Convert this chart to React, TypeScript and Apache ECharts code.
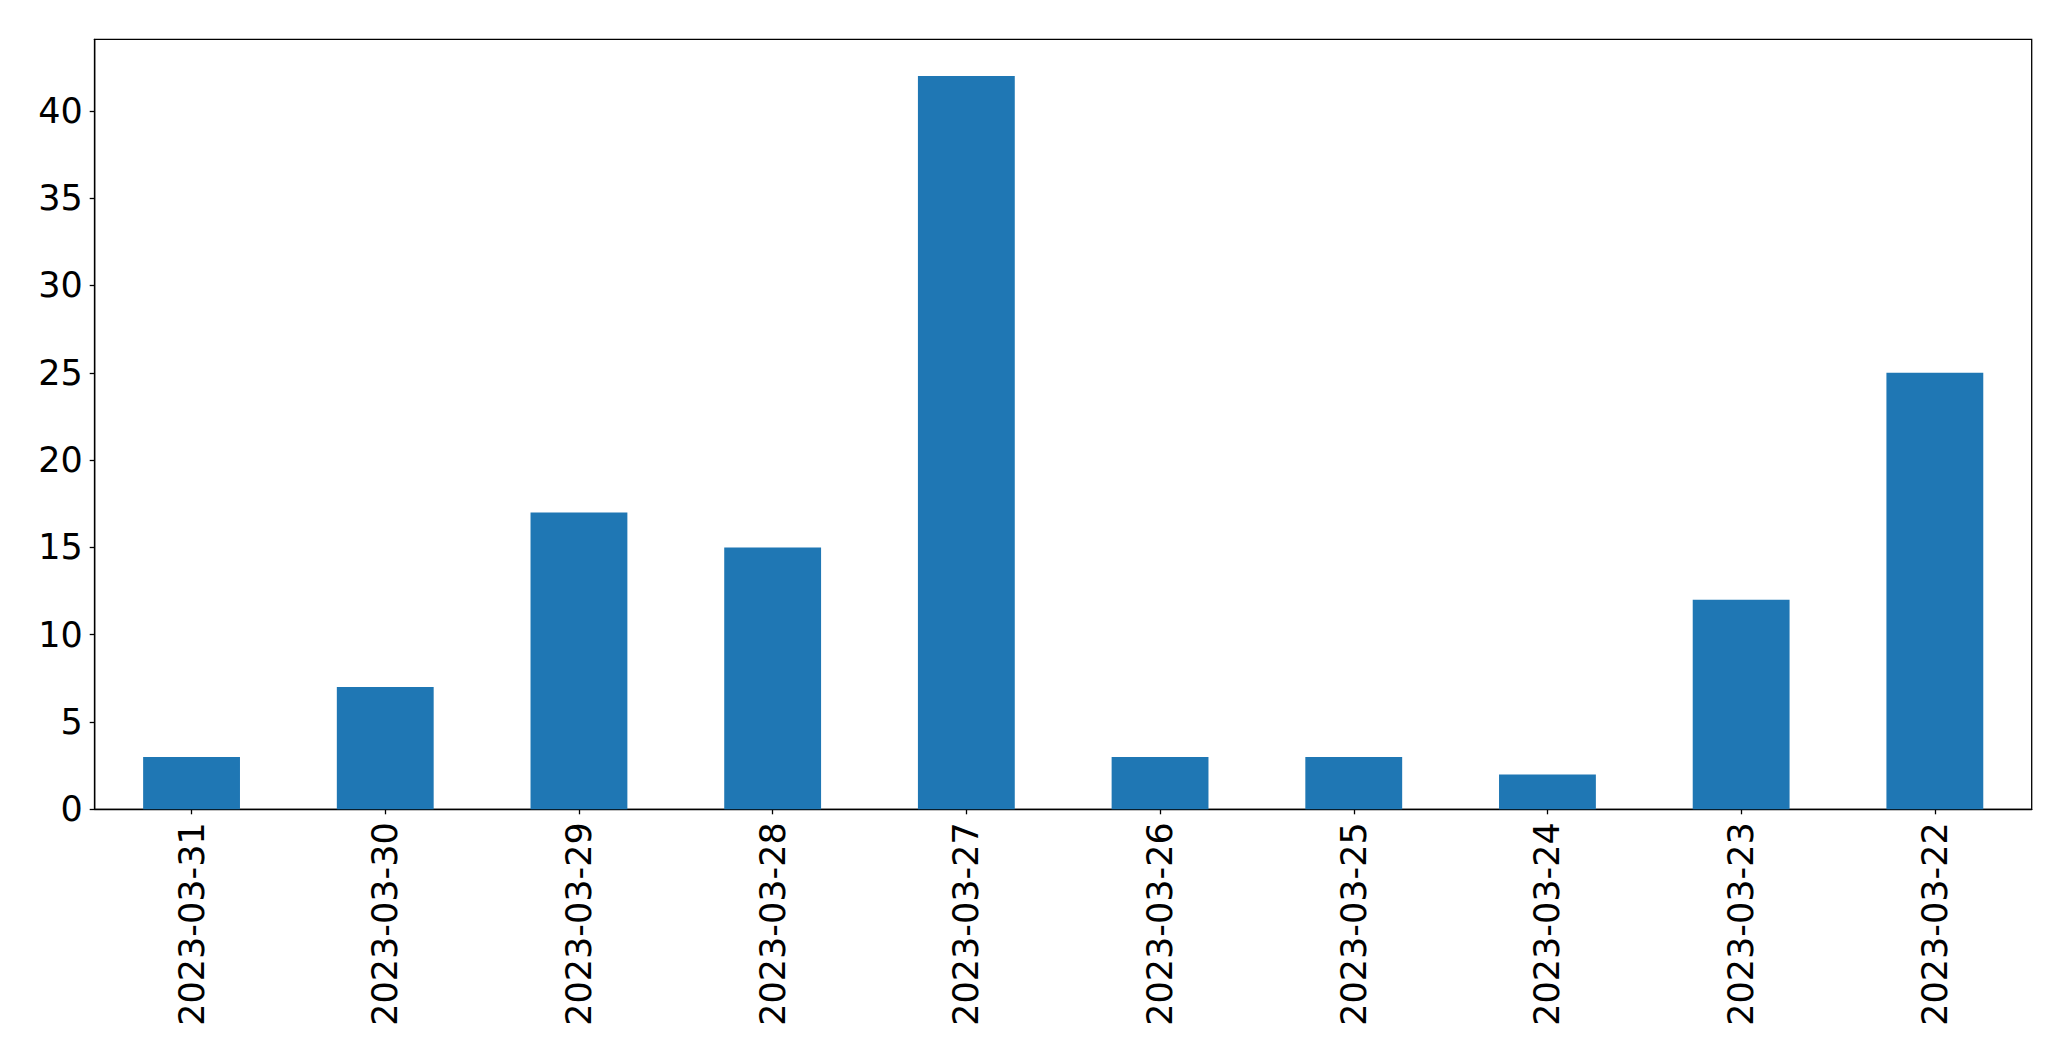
import React, { useEffect, useRef } from "react";
import * as echarts from "echarts";

const categories = [
  "2023-03-31",
  "2023-03-30",
  "2023-03-29",
  "2023-03-28",
  "2023-03-27",
  "2023-03-26",
  "2023-03-25",
  "2023-03-24",
  "2023-03-23",
  "2023-03-22",
];
const values = [3, 7, 17, 15, 42, 3, 3, 2, 12, 25];
const yTicks = [0, 5, 10, 15, 20, 25, 30, 35, 40];
const yMax = 44.1;

export default function App() {
  const ref = useRef<HTMLDivElement>(null);
  useEffect(() => {
    if (!ref.current) return;
    const chart = echarts.init(ref.current, undefined, { renderer: "svg" });
    const font = "DejaVu Sans";
    chart.setOption({
      animation: false,
      backgroundColor: "#ffffff",
      grid: {
        left: 94.7,
        right: 39.3,
        top: 39.3,
        bottom: 251.7,
        containLabel: false,
        show: true,
        borderColor: "#000000",
        borderWidth: 1.3,
        backgroundColor: "transparent",
      },
      xAxis: {
        type: "category",
        data: categories,
        boundaryGap: true,
        axisLine: { show: true, lineStyle: { color: "#000000", width: 1.3 } },
        axisTick: {
          show: true,
          alignWithLabel: true,
          length: 5,
          lineStyle: { color: "#000000", width: 1.3 },
        },
        axisLabel: {
          rotate: 90,
          margin: 13,
          fontFamily: font,
          fontSize: 35,
          color: "#000000",
          interval: 0,
        },
        splitLine: { show: false },
      },
      yAxis: {
        type: "value",
        min: 0,
        max: yMax,
        interval: 5,
        axisLine: { show: true, lineStyle: { color: "#000000", width: 1.3 } },
        axisTick: {
          show: true,
          length: 5,
          customValues: yTicks,
          lineStyle: { color: "#000000", width: 1.3 },
        },
        axisLabel: {
          margin: 12,
          fontFamily: font,
          fontSize: 35,
          color: "#000000",
          customValues: yTicks,
        },
        splitLine: { show: false },
      },
      series: [
        {
          type: "bar",
          data: values,
          barWidth: "50%",
          itemStyle: { color: "#1f77b4" },
        },
      ],
    });
    return () => chart.dispose();
  }, []);
  return (
    <div
      ref={ref}
      style={{ position: "fixed", left: 0, top: 0, width: 2071, height: 1061 }}
    />
  );
}
